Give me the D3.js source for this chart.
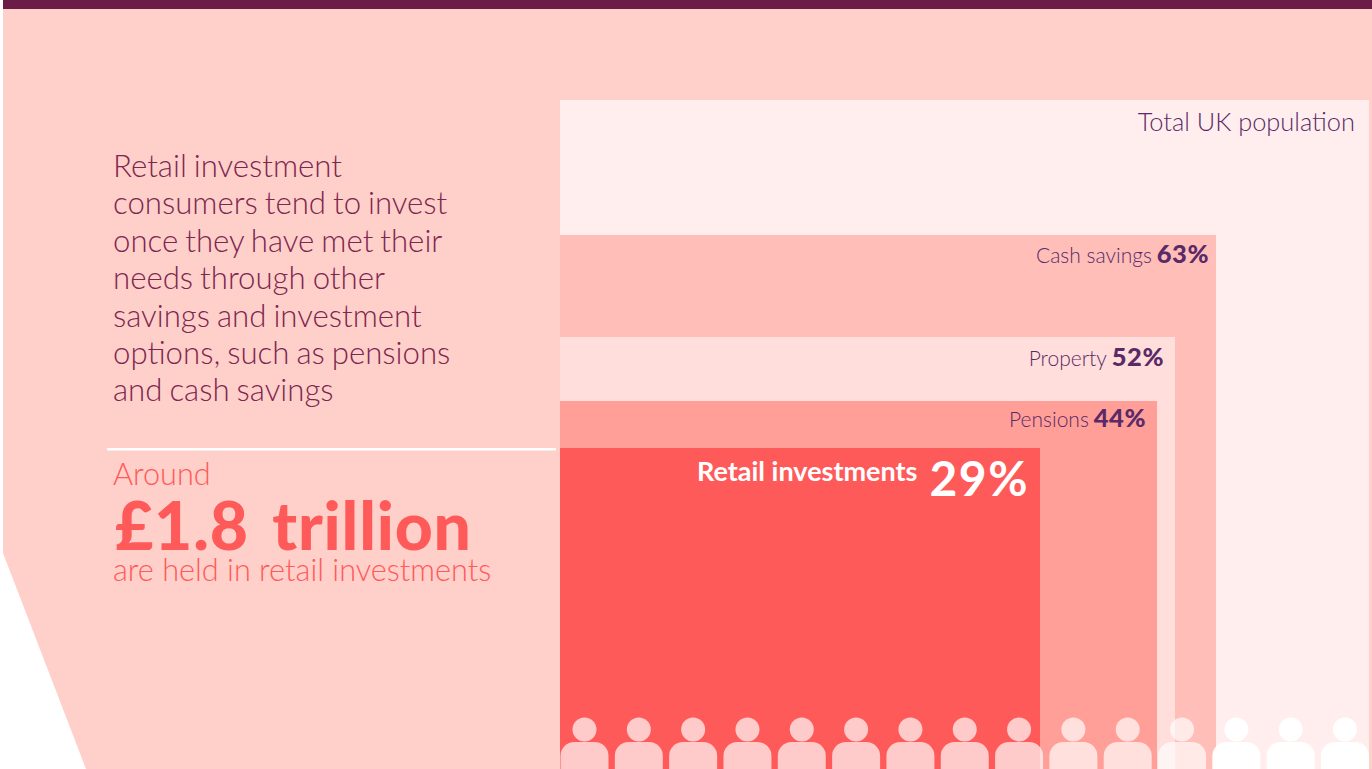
<!DOCTYPE html>
<html>
<head>
<meta charset="utf-8">
<script src="https://cdn.jsdelivr.net/npm/d3@7"></script>
<style>
  html, body { margin: 0; padding: 0; background: #fff; overflow: hidden; }
  svg { display: block; }
  text { font-family: Lato, "Open Sans", sans-serif; }
</style>
</head>
<body>
<script>
// Share of UK population holding each product
var categories = ['Total UK population', 'Cash savings', 'Property', 'Pensions', 'Retail investments'];
var shares = [100, 63, 52, 44, 29];
var peopleCount = d3.range(15);

var introLines = ['Retail investment', 'consumers tend to invest', 'once they have met their',
                  'needs through other', 'savings and investment', 'options, such as pensions',
                  'and cash savings'];
var calloutLines = ['Around', '£1.8 trillion', 'are held in retail investments'];

var w = 1372,
    h = 769;

var fills = ['#ffeeed', '#ffbeb8', '#ffdedb', '#ff9f97', '#ff5a5a'];
var purple = '#5a2a68';
var wine = '#7c2650';
var coral = '#ff5a5a';

var svg = d3.select('body').append('svg')
  .attr('width', w)
  .attr('height', h);

// The boxes are sized by area, so neither side is linear with the share
var xScale = d3.scaleLinear()
  .domain([0, 29, 44, 52, 63, 100])
  .range([560, 1040, 1157, 1175, 1216, 1369]);

var yScale = d3.scaleLinear()
  .domain([29, 44, 52, 63, 100])
  .range([448, 401, 337, 235, 100]);

var peopleScale = d3.scalePoint()
  .domain(peopleCount)
  .range([584.5, 1345]);

// Page background with the cut corner
svg.append('path')
  .attr('d', d3.line()([[3, 0], [w, 0], [w, h], [86, h], [3, 553]]))
  .attr('fill', '#ffcfc9');

svg.append('rect')
  .attr('x', 3)
  .attr('y', 0)
  .attr('width', w - 3)
  .attr('height', 9)
  .attr('fill', '#6b1d47');

// Nested boxes
svg.selectAll('rect.box')
  .data(shares)
  .enter()
  .append('rect')
  .attr('class', 'box')
  .attr('x', xScale(0))
  .attr('y', function(d) { return yScale(d); })
  .attr('width', function(d) { return xScale(d) - xScale(0); })
  .attr('height', function(d) { return h - yScale(d); })
  .attr('fill', function(d, i) { return fills[i]; });

// Row of people along the bottom
var people = svg.selectAll('g.person')
  .data(peopleCount)
  .enter()
  .append('g')
  .attr('class', 'person')
  .attr('transform', function(d) { return 'translate(' + peopleScale(d) + ',0)'; })
  .attr('fill', '#fff')
  .attr('fill-opacity', function(d) {
    return peopleScale(d) > xScale(63) ? 1 : 0.68;
  });

people.append('circle')
  .attr('cy', 729.5)
  .attr('r', 12);

people.append('rect')
  .attr('x', -24)
  .attr('y', 742)
  .attr('width', 48)
  .attr('height', 50)
  .attr('rx', 14);

// Box labels
var labelInset = [14, 7, 11, 11, 11];
var labelBaseline = [131, 263, 366, 427, 481];

var labels = svg.selectAll('text.label')
  .data(categories)
  .enter()
  .append('text')
  .attr('class', 'label')
  .attr('x', function(d, i) { return xScale(shares[i]) - labelInset[i]; })
  .attr('y', function(d, i) { return labelBaseline[i]; })
  .attr('text-anchor', 'end')
  .attr('fill', function(d, i) { return i === 4 ? '#fff' : purple; });

labels.append('tspan')
  .text(function(d) { return d; })
  .attr('font-size', function(d, i) { return i === 0 ? 25.4 : i === 4 ? 27 : 21; })
  .attr('font-weight', function(d, i) { return i === 4 ? 700 : 300; });

labels.filter(function(d, i) { return i > 0; })
  .append('tspan')
  .text(function(d, i) { return shares[i + 1] + '%'; })
  .attr('dx', function(d, i) { return i === 3 ? 12 : 5; })
  .attr('dy', function(d, i) { return i === 3 ? 15 : 0; })
  .attr('font-size', function(d, i) { return i === 3 ? 48 : 25.5; })
  .attr('letter-spacing', function(d, i) { return i === 3 ? 1.5 : 0.5; })
  .attr('font-weight', function(d, i) { return i === 3 ? 700 : 900; });

// Intro paragraph
svg.selectAll('text.intro')
  .data(introLines)
  .enter()
  .append('text')
  .attr('class', 'intro')
  .text(function(d) { return d; })
  .attr('x', 113)
  .attr('y', function(d, i) { return 177 + i * 37.4; })
  .attr('font-size', 31.2)
  .attr('word-spacing', -1.5)
  .attr('font-weight', 300)
  .attr('fill', wine);

svg.append('rect')
  .attr('x', 107)
  .attr('y', 448)
  .attr('width', 449)
  .attr('height', 2.5)
  .attr('fill', '#fff');

// Callout
svg.append('text')
  .text(calloutLines[0])
  .attr('x', 113)
  .attr('y', 485)
  .attr('font-size', 30.7)
  .attr('font-weight', 300)
  .attr('fill', coral);

svg.append('text')
  .text(calloutLines[1])
  .attr('x', 115)
  .attr('y', 550)
  .attr('font-size', 66)
  .attr('letter-spacing', 0.8)
  .attr('word-spacing', 7)
  .attr('font-weight', 900)
  .attr('fill', coral);

svg.append('text')
  .text(calloutLines[2])
  .attr('x', 113)
  .attr('y', 581)
  .attr('font-size', 30.7)
  .attr('font-weight', 300)
  .attr('fill', coral);
</script>
</body>
</html>
